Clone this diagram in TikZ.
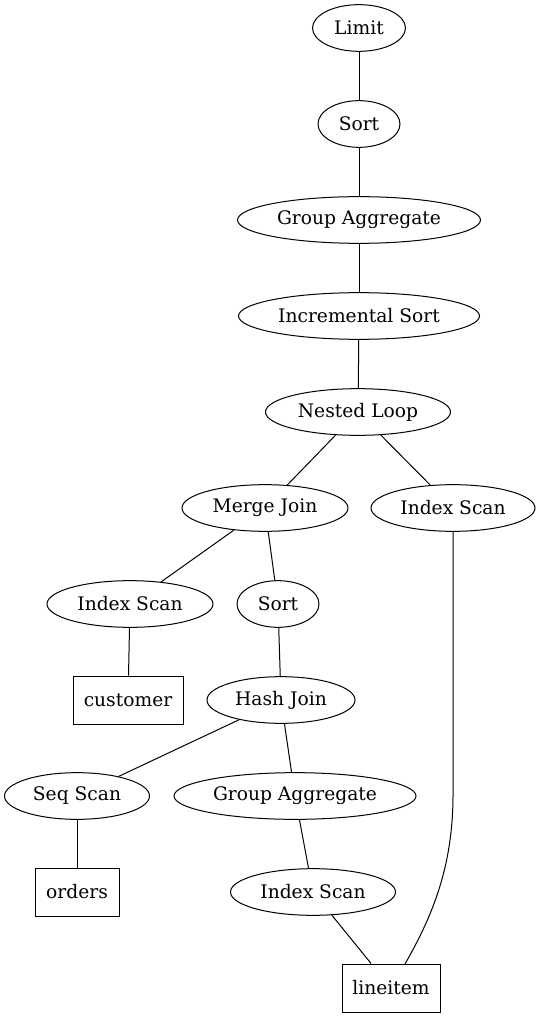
\documentclass[tikz,border=0pt]{standalone}
\usepackage{fontspec}
\setmainfont{DejaVu Serif}
\usetikzlibrary{shapes.geometric}
\begin{document}
\begin{tikzpicture}[x=0.75pt,y=-0.75pt,
  ell/.style={ellipse, draw, line width=0.75pt, minimum width=#1*0.75pt, minimum height=35pt, inner sep=0pt, font=\fontsize{14}{16}\selectfont},
  tbl/.style={rectangle, draw, line width=0.75pt, minimum width=#1*0.75pt, minimum height=36pt, inner sep=0pt, font=\fontsize{14}{16}\selectfont},
  edge/.style={draw, line width=0.75pt}]
\useasboundingbox (0,0) rectangle (541,1019);
\node[ell=93]  (limit) at (359,28)  {Limit};
\node[ell=82]  (sort1) at (359,124) {Sort};
\node[ell=243] (ga1)   at (359,220) {Group Aggregate};
\node[ell=241] (isort) at (359,316) {Incremental Sort};
\node[ell=185] (nl)    at (358,412) {Nested Loop};
\node[ell=166] (mj)    at (265,508) {Merge Join};
\node[ell=164] (isr)   at (453,508) {Index Scan};
\node[ell=166] (isl)   at (130,604) {Index Scan};
\node[ell=82]  (sort2) at (278,604) {Sort};
\node[tbl=110] (cust)  at (128,700) {customer};
\node[ell=148] (hj)    at (281,700) {Hash Join};
\node[ell=145] (seq)   at (77,796)  {Seq Scan};
\node[ell=242] (ga2)   at (295,796) {Group Aggregate};
\node[tbl=84]  (ord)   at (77,892)  {orders};
\node[ell=165] (is3)   at (313,892) {Index Scan};
\node[tbl=98]  (li)    at (391,988) {lineitem};
\coordinate (bend) at (453,795);
\coordinate (liend) at (405,964);
\draw[edge] (limit) -- (sort1);
\draw[edge] (sort1) -- (ga1);
\draw[edge] (ga1) -- (isort);
\draw[edge] (isort) -- (nl);
\draw[edge] (nl) -- (mj);
\draw[edge] (nl) -- (isr);
\draw[edge] (mj) -- (isl);
\draw[edge] (mj) -- (sort2);
\draw[edge] (isl) -- (cust);
\draw[edge] (sort2) -- (hj);
\draw[edge] (hj) -- (seq);
\draw[edge] (hj) -- (ga2);
\draw[edge] (seq) -- (ord);
\draw[edge] (ga2) -- (is3);
\draw[edge] (is3) -- (li);
\draw[edge] (isr.south) -- (bend) .. controls (453,870) and (430,920) .. (liend);
\end{tikzpicture}
\end{document}
